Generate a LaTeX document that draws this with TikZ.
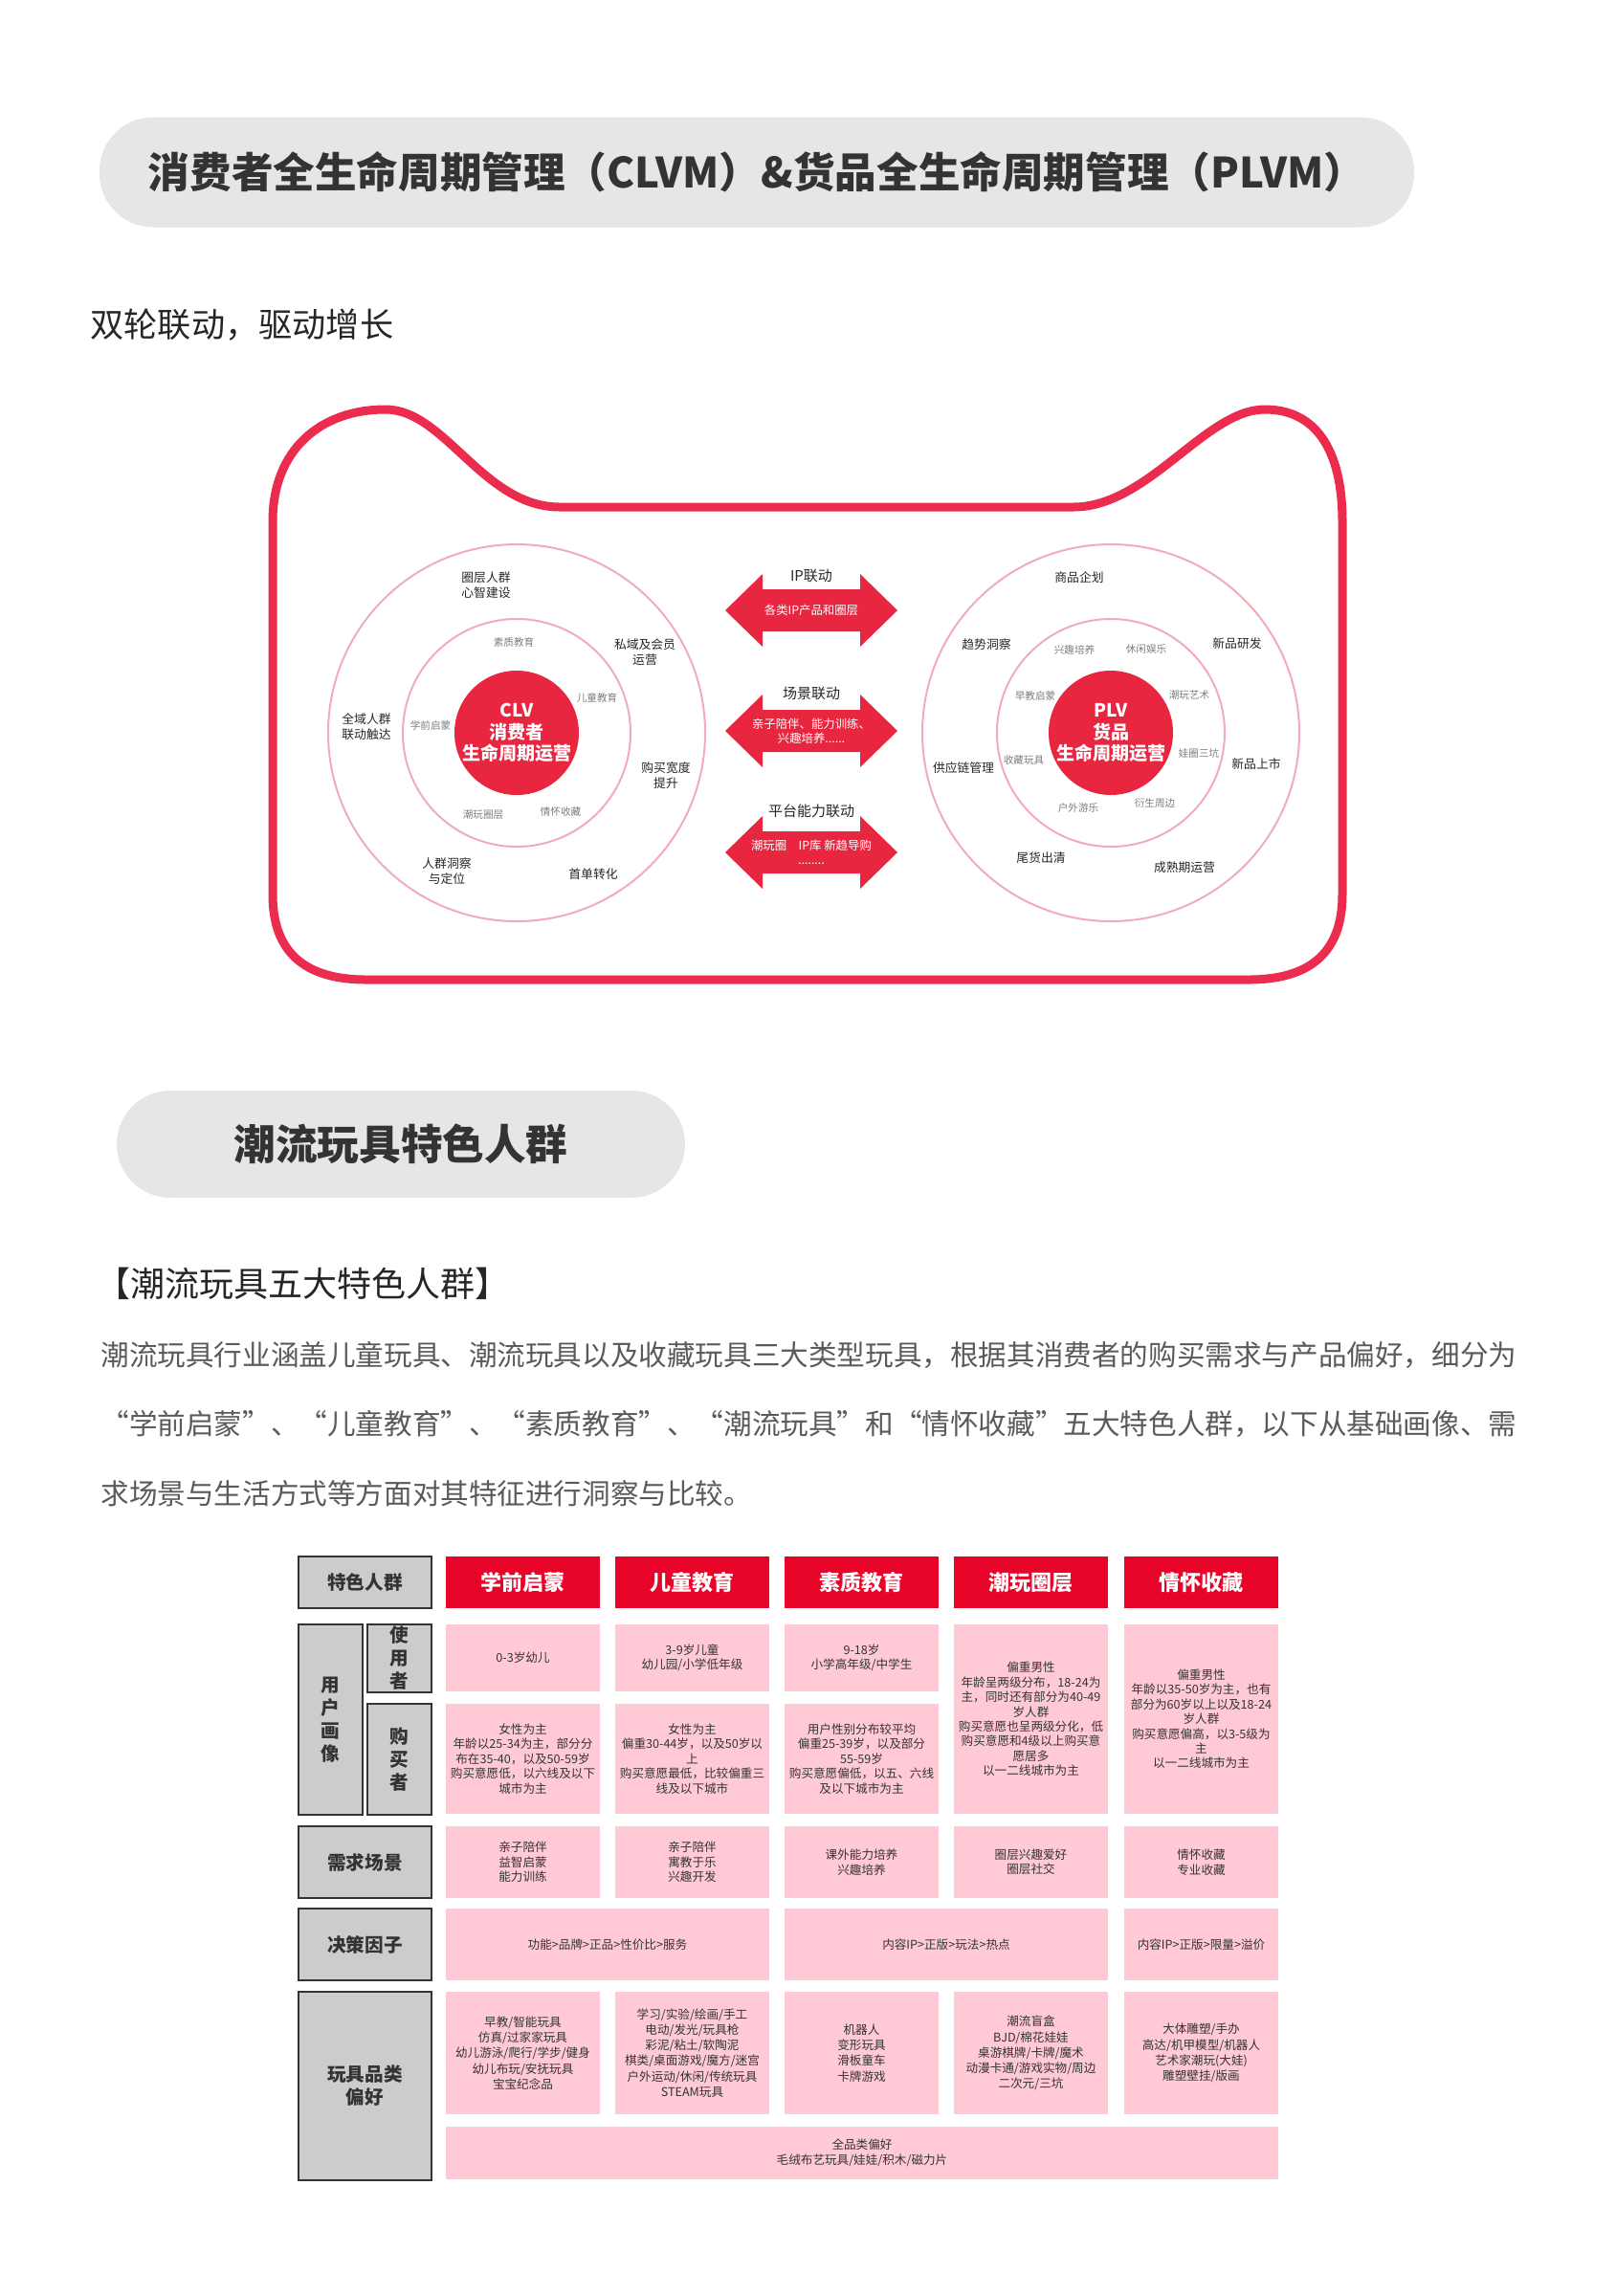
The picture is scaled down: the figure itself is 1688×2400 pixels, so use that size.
\documentclass[tikz,border=0pt]{standalone}
\usepackage{fontspec}
\setmainfont{Noto Sans CJK SC}
\usepackage{xcolor}
\usetikzlibrary{positioning}
\XeTeXlinebreaklocale "zh"
\XeTeXlinebreakskip=0pt plus 1pt

\definecolor{catred}{RGB}{236,44,78}
\definecolor{corered}{RGB}{233,38,64}
\definecolor{headred}{RGB}{232,4,40}
\definecolor{ringpink}{RGB}{242,172,184}
\definecolor{cellpink}{RGB}{255,202,213}
\definecolor{labelgray}{RGB}{204,204,204}
\definecolor{pillgray}{RGB}{230,230,230}
\definecolor{inkgray}{RGB}{51,51,51}
\definecolor{softgray}{RGB}{125,125,125}
\definecolor{bodygray}{RGB}{90,90,90}

\begin{document}
\begin{tikzpicture}[x=0.5pt,y=-0.5pt,
  pill/.style={fill=pillgray,rounded corners=28pt,inner sep=0pt,text=inkgray,font=\bfseries\fontsize{21.8}{26}\selectfont},
  catline/.style={draw=catred,line width=4.5pt,line join=round},
  core/.style={circle,fill=corered,minimum size=65pt,inner sep=0pt,text=white,align=center,font=\bfseries\fontsize{9.5}{11.2}\selectfont},
  ring/.style={draw=ringpink,line width=1pt},
  outlabel/.style={align=center,inner sep=0pt,text=black!85,font=\fontsize{6.4}{8}\selectfont},
  inlabel/.style={inner sep=0pt,text=softgray,font=\fontsize{5.3}{6.5}\selectfont},
  linkhead/.style={inner sep=0pt,text=black!85,font=\fontsize{7.5}{9}\selectfont},
  linkbody/.style={inner sep=0pt,align=center,text=white,font=\fontsize{6.2}{7.5}\selectfont},
  cellat/.style n args={4}{minimum width={(#3-#1)*0.5pt},minimum height={(#4-#2)*0.5pt},at={({(#1+#3)/2},{(#2+#4)/2})}},
  headcell/.style={fill=headred,inner sep=0pt,text=white,font=\bfseries\fontsize{11}{13}\selectfont},
  graycell/.style={fill=labelgray,draw=inkgray,line width=1pt,inner sep=0pt,align=center,text=inkgray,font=\bfseries\fontsize{9.8}{12}\selectfont},
  pinkcell/.style={fill=cellpink,inner sep=0pt,align=center,text=inkgray,font=\fontsize{6.3}{7.7}\selectfont},
  toycell/.style={pinkcell,font=\fontsize{6.3}{8.1}\selectfont},
  introline/.style={anchor=west,inner sep=0pt,text=bodygray,font=\fontsize{14.8}{18}\selectfont}
]
\useasboundingbox (0,0) rectangle (1688,2400);

\node[pill,minimum width=687pt,minimum height=57.5pt] (title) at (791,180) {消费者全生命周期管理（CLVM）\&货品全生命周期管理（PLVM）};
\node[anchor=west,inner sep=0pt,text=black!85,font=\fontsize{17.6}{20}\selectfont] (motto) at (94,340) {双轮联动，驱动增长};

\draw[catline] (285,545) .. controls (285,470) and (335,428) .. (403,428)
  .. controls (465,428) and (505,530) .. (585,530)
  -- (1122,530) .. controls (1200,530) and (1260,428) .. (1322,428)
  .. controls (1375,428) and (1403,470) .. (1403,545)
  -- (1403,935) .. controls (1403,995) and (1370,1024) .. (1305,1024)
  -- (383,1024) .. controls (318,1024) and (285,995) .. (285,935) -- cycle;

\node[core] (clv) at (540,766) {CLV\\消费者\\生命周期运营};
\node[core] (plv) at (1161,766) {PLV\\货品\\生命周期运营};
\foreach \w in {clv,plv} {
  \draw[ring] (\w.center) circle[radius=197];
  \draw[ring] (\w.center) circle[radius=119];
}

\foreach \x/\y/\t [count=\i] in {508/612/{圈层人群\\心智建设}, 674/682/{私域及会员\\运营}, 383/760/{全域人群\\联动触达}, 696/811/{购买宽度\\提升}, 467/911/{人群洞察\\与定位}, 620/914/首单转化} {
  \node[outlabel] (clvout\i) at (\x,\y) {\t};
}
\foreach \x/\y/\t [count=\i] in {537/671/素质教育, 624/729/儿童教育, 450/758/学前启蒙, 505/852/潮玩圈层, 586/848/情怀收藏} {
  \node[inlabel] (clvin\i) at (\x,\y) {\t};
}
\foreach \x/\y/\t [count=\i] in {1128/604/商品企划, 1031/674/趋势洞察, 1293/673/新品研发, 1007/803/供应链管理, 1313/799/新品上市, 1088/897/尾货出清, 1238/907/成熟期运营} {
  \node[outlabel] (plvout\i) at (\x,\y) {\t};
}
\foreach \x/\y/\t [count=\i] in {1123/679/兴趣培养, 1198/678/休闲娱乐, 1082/727/早教启蒙, 1243/726/潮玩艺术, 1070/794/收藏玩具, 1253/787/娃圈三坑, 1127/844/户外游乐, 1207/839/衍生周边} {
  \node[inlabel] (plvin\i) at (\x,\y) {\t};
}

\foreach \cy/\ly/\nm/\hd/\bd in {638/602/ip/IP联动/各类IP产品和圈层, 764/725/scene/场景联动/{亲子陪伴、能力训练、\\兴趣培养......}, 891/848/platform/平台能力联动/{潮玩圈\quad IP库 新趋导购\\........}} {
  \fill[corered] (758,\cy) -- (797,{\cy-38}) -- (797,{\cy-22}) -- (899,{\cy-22}) -- (899,{\cy-38}) -- (938,\cy)
    -- (899,{\cy+38}) -- (899,{\cy+22}) -- (797,{\cy+22}) -- (797,{\cy+38}) -- cycle;
  \node[linkbody] (\nm) at (848,\cy) {\bd};
  \node[linkhead] (\nm-head) at (848,\ly) {\hd};
}

\node[pill,minimum width=297pt,minimum height=56pt] (crowd) at (419,1196) {潮流玩具特色人群};
\node[anchor=west,inner sep=0pt,text=black!85,font=\fontsize{18}{20}\selectfont] (five) at (100,1342) {【潮流玩具五大特色人群】};
\node[introline] (intro1) at (105,1416) {\makebox[737pt][s]{潮流玩具行业涵盖儿童玩具、潮流玩具以及收藏玩具三大类型玩具，根据其消费者的购买需求与产品偏好，细分为}};
\node[introline] (intro2) at (105,1488) {\makebox[737pt][s]{“学前启蒙”、“儿童教育”、“素质教育”、“潮流玩具”和“情怀收藏”五大特色人群，以下从基础画像、需}};
\node[introline] (intro3) at (105,1561) {求场景与生活方式等方面对其特征进行洞察与比较。};

\node[graycell,cellat={312}{1627}{451}{1681}] (groupkey) {特色人群};
\foreach \c/\xl/\t in {1/466/学前启蒙, 2/643/儿童教育, 3/820/素质教育, 4/997/潮玩圈层, 5/1175/情怀收藏} {
  \node[headcell,cellat={\xl}{1627}{\xl+161}{1681}] (head\c) {\t};
}

\node[graycell,cellat={312}{1698}{379}{1897}] (portrait) {用\\户\\画\\像};
\node[graycell,cellat={384}{1698}{451}{1769}] (userkey) {使\\用\\者};
\node[graycell,cellat={384}{1781}{451}{1897}] (buyerkey) {购\\买\\者};
\node[pinkcell,cellat={466}{1698}{627}{1768}] (user1) {0-3岁幼儿};
\node[pinkcell,cellat={643}{1698}{804}{1768}] (user2) {3-9岁儿童\\幼儿园/小学低年级};
\node[pinkcell,cellat={820}{1698}{981}{1768}] (user3) {9-18岁\\小学高年级/中学生};
\node[pinkcell,cellat={997}{1698}{1158}{1896}] (user4) {偏重男性\\年龄呈两级分布，18-24为\\主，同时还有部分为40-49\\岁人群\\购买意愿也呈两级分化，低\\购买意愿和4级以上购买意\\愿居多\\以一二线城市为主};
\node[pinkcell,cellat={1175}{1698}{1336}{1896}] (user5) {偏重男性\\年龄以35-50岁为主，也有\\部分为60岁以上以及18-24\\岁人群\\购买意愿偏高，以3-5级为\\主\\以一二线城市为主};
\node[pinkcell,cellat={466}{1781}{627}{1896}] (buyer1) {女性为主\\年龄以25-34为主，部分分\\布在35-40，以及50-59岁\\购买意愿低，以六线及以下\\城市为主};
\node[pinkcell,cellat={643}{1781}{804}{1896}] (buyer2) {女性为主\\偏重30-44岁，以及50岁以\\上\\购买意愿最低，比较偏重三\\线及以下城市};
\node[pinkcell,cellat={820}{1781}{981}{1896}] (buyer3) {用户性别分布较平均\\偏重25-39岁，以及部分\\55-59岁\\购买意愿偏低，以五、六线\\及以下城市为主};

\node[graycell,cellat={312}{1909}{451}{1984}] (needkey) {需求场景};
\node[pinkcell,cellat={466}{1909}{627}{1984}] (need1) {亲子陪伴\\益智启蒙\\能力训练};
\node[pinkcell,cellat={643}{1909}{804}{1984}] (need2) {亲子陪伴\\寓教于乐\\兴趣开发};
\node[pinkcell,cellat={820}{1909}{981}{1984}] (need3) {课外能力培养\\兴趣培养};
\node[pinkcell,cellat={997}{1909}{1158}{1984}] (need4) {圈层兴趣爱好\\圈层社交};
\node[pinkcell,cellat={1175}{1909}{1336}{1984}] (need5) {情怀收藏\\专业收藏};

\node[graycell,cellat={312}{1995}{451}{2070}] (factorkey) {决策因子};
\node[pinkcell,cellat={466}{1995}{804}{2070}] (factor12) {功能>品牌>正品>性价比>服务};
\node[pinkcell,cellat={820}{1995}{1158}{2070}] (factor34) {内容IP>正版>玩法>热点};
\node[pinkcell,cellat={1175}{1995}{1336}{2070}] (factor5) {内容IP>正版>限量>溢价};

\node[graycell,cellat={312}{2082}{451}{2279}] (toykey) {玩具品类\\偏好};
\node[toycell,cellat={466}{2082}{627}{2210}] (toy1) {早教/智能玩具\\仿真/过家家玩具\\幼儿游泳/爬行/学步/健身\\幼儿布玩/安抚玩具\\宝宝纪念品};
\node[toycell,cellat={643}{2082}{804}{2210}] (toy2) {学习/实验/绘画/手工\\电动/发光/玩具枪\\彩泥/粘土/软陶泥\\棋类/桌面游戏/魔方/迷宫\\户外运动/休闲/传统玩具\\STEAM玩具};
\node[toycell,cellat={820}{2082}{981}{2210}] (toy3) {机器人\\变形玩具\\滑板童车\\卡牌游戏};
\node[toycell,cellat={997}{2082}{1158}{2210}] (toy4) {潮流盲盒\\BJD/棉花娃娃\\桌游棋牌/卡牌/魔术\\动漫卡通/游戏实物/周边\\二次元/三坑};
\node[toycell,cellat={1175}{2082}{1336}{2210}] (toy5) {大体雕塑/手办\\高达/机甲模型/机器人\\艺术家潮玩(大娃)\\雕塑壁挂/版画};
\node[toycell,cellat={466}{2223}{1336}{2278}] (toyall) {全品类偏好\\毛绒布艺玩具/娃娃/积木/磁力片};
\end{tikzpicture}
\end{document}
